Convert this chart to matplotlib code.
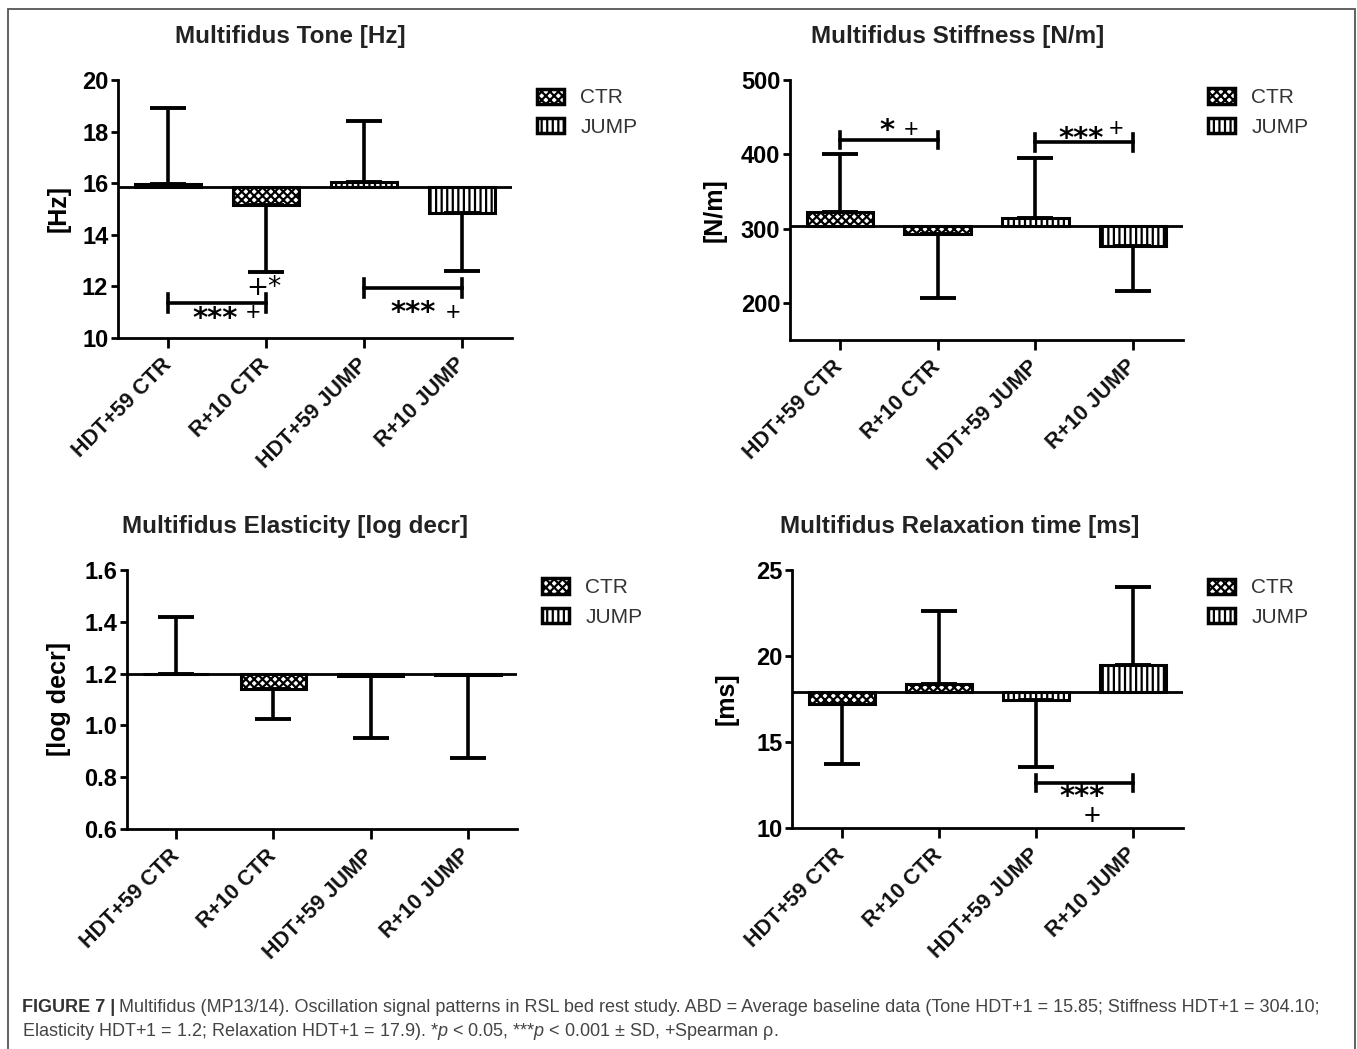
import matplotlib
matplotlib.use("Agg")
import matplotlib.pyplot as plt
from matplotlib.patches import Rectangle, Patch

plt.rcParams['font.family'] = ['Liberation Sans', 'DejaVu Sans']
plt.rcParams['hatch.linewidth'] = 1.6
plt.rcParams['mathtext.fontset'] = 'custom'
plt.rcParams['mathtext.rm'] = 'Liberation Sans'
plt.rcParams['mathtext.it'] = 'Liberation Sans:italic'

groups = ["HDT+59 CTR", "R+10 CTR", "HDT+59 JUMP", "R+10 JUMP"]
series = ["CTR", "CTR", "JUMP", "JUMP"]

# baseline (HDT+1) and means / SD-end values per panel
tone_base = 15.85
tone_mean = [15.98, 15.15, 16.05, 14.85]
tone_err_end = [18.9, 12.55, 18.4, 12.6]

stiff_base = 304.10
stiff_mean = [322, 293, 314, 277]
stiff_err_end = [400, 207, 395, 216]

elast_base = 1.2
elast_mean = [1.2, 1.14, 1.19, 1.195]
elast_err_end = [1.42, 1.025, 0.95, 0.875]

relax_base = 17.9
relax_mean = [17.2, 18.4, 17.45, 19.5]
relax_err_end = [13.7, 22.6, 13.55, 24.0]

hatches = {"CTR": "xxxx", "JUMP": "|||"}

fig = plt.figure(figsize=(13.57, 10.49), dpi=100)
W, H = 1357, 1049


def px_axes(l, t, r, b):
    return fig.add_axes([l / W, 1 - b / H, (r - l) / W, (b - t) / H])


def panel(ax, base, means, ends, ylim, yticks, ylabel, label_x, title, title_xy):
    x = list(range(len(groups)))
    for i in x:
        h = means[i] - base
        ax.bar(i, h, bottom=base, width=0.68, color="white", edgecolor="black",
               linewidth=2.2, hatch=hatches[series[i]], zorder=2)
        lo = means[i] - ends[i] if ends[i] < means[i] else 0
        hi = ends[i] - means[i] if ends[i] > means[i] else 0
        ax.errorbar(i, means[i], yerr=[[lo], [hi]], fmt="none", ecolor="black",
                    elinewidth=2.6, capsize=13, capthick=2.8, zorder=3)
    ax.axhline(base, color="black", lw=2.0, zorder=4)
    ax.set_xlim(-0.51, 3.51)
    ax.set_ylim(*ylim)
    ax.set_yticks(yticks)
    ax.set_xticks(x)
    ax.set_xticklabels(groups, rotation=45, ha="right", va="center", rotation_mode="anchor",
                       fontsize=15.5, fontweight="bold", color="#111111")
    for lab in ax.get_yticklabels():
        lab.set_fontsize(17)
        lab.set_fontweight("bold")
    ax.spines["top"].set_visible(False)
    ax.spines["right"].set_visible(False)
    ax.spines["left"].set_linewidth(2.0)
    ax.spines["bottom"].set_linewidth(2.0)
    ax.tick_params(axis="y", length=5, width=2, pad=2)
    ax.tick_params(axis="x", length=7, width=2, pad=10)
    ax.set_ylabel(ylabel, fontsize=18, fontweight="bold")
    ax.yaxis.set_label_coords(label_x, 0.5)
    fig.text(title_xy[0] / W, 1 - title_xy[1] / H, title, ha="center", va="center",
             fontsize=17.5, fontweight="bold", color="#222222")
    handles = [Patch(facecolor="white", edgecolor="black", linewidth=2.5, hatch=hatches[s], label=s)
               for s in ["CTR", "JUMP"]]
    ax.legend(handles=handles, loc="upper left", bbox_to_anchor=(1.015, 1.04), frameon=False,
              fontsize=15, handlelength=1.3, handleheight=0.75, labelspacing=0.5,
              handletextpad=0.8, labelcolor="#333333")


def bracket(ax, x0, x1, y, dy):
    ax.plot([x0, x1], [y, y], color="black", lw=2.6, zorder=5)
    ax.plot([x0, x0], [y - dy, y + dy], color="black", lw=2.6, zorder=5)
    ax.plot([x1, x1], [y - dy, y + dy], color="black", lw=2.6, zorder=5)


def stars(ax, x, y, s, size=21, weight="bold", ls=1.2):
    ax.text(x, y, s, ha="center", va="center", fontsize=size, fontweight=weight,
            family="DejaVu Sans", linespacing=ls, zorder=6)


def plus(ax, x, y):
    ax.text(x, y, "+", ha="center", va="center", fontsize=18, zorder=6)


ax1 = px_axes(118, 80, 512, 338)
panel(ax1, tone_base, tone_mean, tone_err_end, (10, 20), [10, 12, 14, 16, 18, 20],
      "[Hz]", -0.119, "Multifidus Tone [Hz]", (290, 36))
bracket(ax1, 0, 1, 11.37, 0.35)
stars(ax1, 0.48, 10.75, "***")
plus(ax1, 0.87, 10.95)
stars(ax1, 0.98, 11.95, "+*", size=19, weight="normal")
bracket(ax1, 2, 3, 11.94, 0.35)
stars(ax1, 2.5, 10.98, "***")
plus(ax1, 2.91, 10.95)

ax2 = px_axes(790, 80, 1183, 340)
panel(ax2, stiff_base, stiff_mean, stiff_err_end, (150, 500), [200, 300, 400, 500],
      "[N/m]", -0.160, "Multifidus Stiffness [N/m]", (958, 36))
bracket(ax2, 0, 1, 418.9, 11)
stars(ax2, 0.48, 432, "*")
plus(ax2, 0.73, 433)
bracket(ax2, 2, 3, 416, 11)
stars(ax2, 2.47, 420, "***")
plus(ax2, 2.83, 434)

ax3 = px_axes(127, 570, 517, 829)
panel(ax3, elast_base, elast_mean, elast_err_end, (0.6, 1.6), [0.6, 0.8, 1.0, 1.2, 1.4, 1.6],
      "[log decr]", -0.144, "Multifidus Elasticity [log decr]", (295, 526))
ax3.yaxis.set_major_formatter(matplotlib.ticker.FormatStrFormatter("%.1f"))

ax4 = px_axes(792, 570, 1183, 828)
panel(ax4, relax_base, relax_mean, relax_err_end, (10, 25), [10, 15, 20, 25],
      "[ms]", -0.136, "Multifidus Relaxation time [ms]", (960, 526))
bracket(ax4, 2, 3, 12.63, 0.48)
stars(ax4, 2.47, 11.22, "***\n  $+$", ls=0.62)

# outer frame
fig.patches.append(Rectangle((8 / W, -0.01), (1355 - 8) / W, 1 - 9 / H + 0.01,
                             transform=fig.transFigure, fill=False, edgecolor="#555555",
                             linewidth=1.3))

# caption
r = fig.canvas.get_renderer()
t1 = fig.text(22 / W, 1 - 1008 / H, "FIGURE 7 |", fontsize=13, fontweight="bold",
              color="#333333", va="center")
bb = t1.get_window_extent(renderer=r)
fig.text(bb.x1 / W + 4 / W, 1 - 1008 / H,
         "Multifidus (MP13/14). Oscillation signal patterns in RSL bed rest study. "
         "ABD = Average baseline data (Tone HDT+1 = 15.85; Stiffness HDT+1 = 304.10;",
         fontsize=13, color="#444444", va="center")
fig.text(22 / W, 1 - 1032 / H,
         r"Elasticity HDT+1 = 1.2; Relaxation HDT+1 = 17.9). *$\it{p}$ < 0.05, ***$\it{p}$ < 0.001 ± SD, +Spearman ρ.",
         fontsize=13, color="#444444", va="center")

fig.savefig("out.png", dpi=100)
